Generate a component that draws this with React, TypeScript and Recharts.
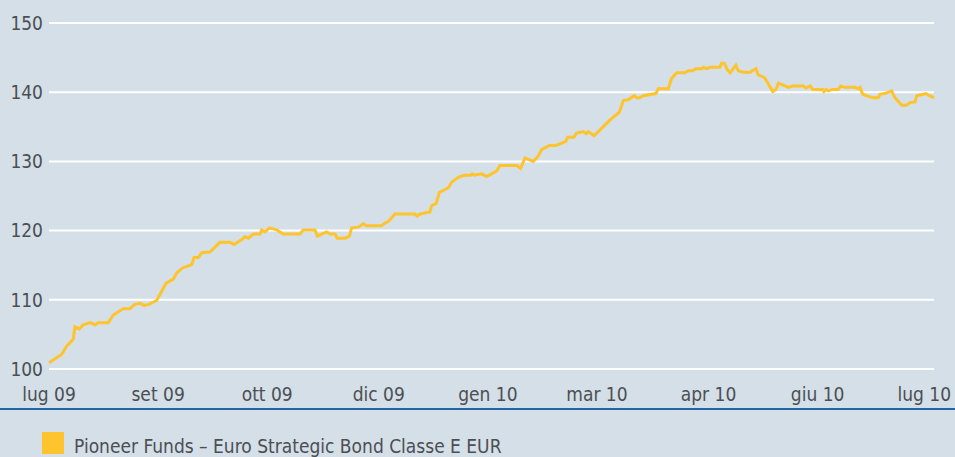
import { LineChart, Line, XAxis, YAxis, CartesianGrid } from 'recharts'

// day offset from start of period and fund value (base 100)
const days = [
  0, 5.2, 7.3, 10.0, 10.7, 12.5, 14.1, 16.9, 19.0, 20.3, 24.5, 26.5, 30.6, 33.4, 35.1, 37.5, 39.2, 41.0, 44.4,
  48.3, 51.3, 52.7, 55.1, 58.9, 59.8, 61.6, 63.0, 66.4, 70.5, 74.6, 76.3, 79.5, 80.8, 82.2, 84.3, 87.0, 87.7,
  89.1, 90.9, 93.9, 96.6, 103.5, 104.9, 109.7, 110.7, 114.5, 115.9, 118.0, 118.9, 122.1, 123.9, 124.8, 127.6,
  129.6, 131.0, 137.2, 138.2, 139.9, 142.7, 150.9, 151.9, 153.0, 157.1, 157.8, 159.6, 161.0, 164.7, 166.1,
  168.8, 171.2, 173.9, 174.6, 175.3, 178.5, 180.5, 184.6, 186.0, 192.9, 194.5, 196.3, 199.7, 201.4, 203.2,
  206.3, 209.1, 213.2, 213.9, 216.5, 217.6, 220.4, 221.5, 222.4, 224.8, 231.4, 235.2, 236.9, 238.9, 241.3,
  242.4, 243.7, 245.1, 250.3, 251.3, 255.4, 256.8, 258.9, 262.3, 263.7, 265.5, 266.8, 269.2, 269.9, 271.3,
  272.6, 276.7, 277.4, 278.5, 279.7, 280.9, 283.3, 284.3, 286.3, 289.1, 291.6, 292.5, 294.6, 295.3, 298.5,
  299.8, 300.8, 304.3, 304.9, 306.7, 311.1, 312.2, 313.9, 315.0, 319.1, 319.6, 320.5, 321.4, 323.2, 325.5,
  326.5, 328.3, 332.4, 333.8, 334.5, 335.6, 337.9, 340.0, 342.0, 342.7, 344.8, 347.5, 348.9, 351.7, 353.7,
  355.1, 357.2, 357.9, 360.6, 361.7, 363.1, 365,
]

const values = [
  100.9, 102.1, 103.3, 104.3, 106.1, 105.8, 106.4, 106.7, 106.4, 106.7, 106.7, 107.8, 108.7, 108.7, 109.3, 109.5,
  109.2, 109.3, 109.9, 112.4, 113.0, 113.9, 114.6, 115.1, 116.1, 116.1, 116.8, 116.9, 118.3, 118.3, 118.0, 118.7,
  119.1, 118.9, 119.5, 119.5, 120.1, 119.8, 120.4, 120.1, 119.5, 119.5, 120.1, 120.1, 119.2, 119.8, 119.5, 119.5,
  118.9, 118.9, 119.2, 120.4, 120.5, 121.0, 120.7, 120.7, 121.0, 121.3, 122.4, 122.4, 122.1, 122.4, 122.7, 123.6,
  123.9, 125.5, 126.2, 127.0, 127.7, 128.0, 128.0, 128.2, 128.0, 128.2, 127.8, 128.6, 129.4, 129.4, 129.0, 130.5,
  130.0, 130.6, 131.7, 132.3, 132.3, 132.9, 133.5, 133.5, 134.1, 134.3, 134.0, 134.3, 133.7, 136.0, 137.1, 138.8,
  138.9, 139.5, 139.2, 139.2, 139.5, 139.8, 140.5, 140.5, 142.0, 142.8, 142.8, 143.1, 143.1, 143.4, 143.4, 143.6,
  143.4, 143.6, 143.6, 144.2, 144.2, 143.3, 142.8, 143.9, 143.1, 142.9, 142.9, 143.4, 142.5, 142.2, 142.0, 140.1,
  140.4, 141.3, 140.8, 140.7, 140.9, 140.9, 140.6, 140.9, 140.4, 140.4, 140.1, 140.4, 140.2, 140.4, 140.4, 140.9,
  140.7, 140.7, 140.5, 140.7, 139.7, 139.4, 139.2, 139.2, 139.7, 139.8, 140.2, 139.2, 138.1, 138.1, 138.5, 138.6,
  139.5, 139.7, 139.8, 139.5, 139.2,
]

const tickDays = [0, 45, 90, 136, 181, 226, 272, 317, 361]
const tickLabels = ['lug 09', 'set 09', 'ott 09', 'dic 09', 'gen 10', 'mar 10', 'apr 10', 'giu 10', 'lug 10']
const yTicks = [100, 110, 120, 130, 140, 150]
const seriesName = 'Pioneer Funds – Euro Strategic Bond Classe E EUR'

const data = days.map((d, i) => ({ day: d, value: values[i] }))

const FONT = '"DejaVu Sans Condensed", "Liberation Sans Narrow", sans-serif'
const TEXT = '#4b4f54'
const LINE = '#fdc42d'

export default function App() {
  return (
    <div
      style={{
        position: 'absolute',
        left: 0,
        top: 0,
        width: 955,
        height: 457,
        overflow: 'hidden',
        background: '#d5dfe7',
        fontFamily: FONT,
      }}
    >
      <LineChart width={955} height={408} data={data} margin={{ top: 23, right: 21, left: 0, bottom: 0 }}>
        <CartesianGrid vertical={false} stroke="#ffffff" strokeWidth={2} />
        <XAxis
          dataKey="day"
          type="number"
          domain={[0, 365]}
          ticks={tickDays}
          interval={0}
          tickFormatter={(_v, i) => tickLabels[i]}
          axisLine={false}
          tickLine={false}
          tickSize={0}
          tickMargin={19}
          height={39}
          tick={{ fill: TEXT, fontSize: 19, fontFamily: FONT }}
        />
        <YAxis
          domain={[100, 150]}
          ticks={yTicks}
          interval={0}
          axisLine={false}
          tickLine={false}
          tickSize={0}
          tickMargin={6}
          width={49}
          tick={{ fill: TEXT, fontSize: 19, fontFamily: FONT }}
        />
        <Line
          type="linear"
          dataKey="value"
          stroke={LINE}
          strokeWidth={3}
          dot={false}
          isAnimationActive={false}
        />
      </LineChart>
      <div style={{ height: 2, background: '#2366a5' }} />
      <div style={{ position: 'absolute', left: 42, top: 432, display: 'flex', alignItems: 'center' }}>
        <div style={{ width: 22, height: 22, background: LINE }} />
        <span style={{ marginLeft: 10, fontSize: 19, color: TEXT, lineHeight: '22px', position: 'relative', top: 3 }}>
          {seriesName}
        </span>
      </div>
    </div>
  )
}
